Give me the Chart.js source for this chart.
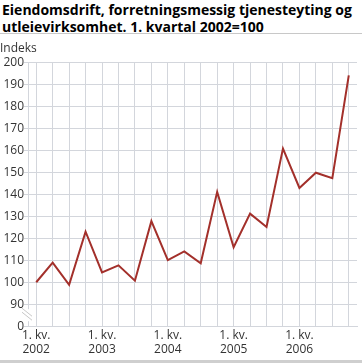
<!DOCTYPE html>
<html>
<head>
<meta charset="utf-8">
<script src="https://cdn.jsdelivr.net/npm/chart.js@4/dist/chart.umd.min.js"></script>
<style>
  html, body { margin: 0; padding: 0; background: #fff; }
  #wrap { width: 362px; height: 364px; position: relative; overflow: hidden; }
  #title {
    font-family: "Open Sans", sans-serif; font-weight: bold; font-size: 14px;
    line-height: 17px; color: #000; padding: 1px 0 0 2px; height: 34px;
    border-bottom: 1px solid #c8c8c8; box-sizing: border-box;
  }
  #box { position: absolute; left: 0; top: 34px; width: 362px; height: 325px; }
  #foot { position: absolute; left: 0; top: 360px; width: 362px; height: 3px; background: #cfcfcf; }
</style>
</head>
<body>
<div id="wrap">
  <div id="title">Eiendomsdrift, forretningsmessig tjenesteyting og utleievirksomhet. 1. kvartal 2002=100</div>
  <div id="box"><canvas id="chart"></canvas></div>
  <div id="foot"></div>
</div>
<script>
const quarters = [
  '2002K1', '2002K2', '2002K3', '2002K4',
  '2003K1', '2003K2', '2003K3', '2003K4',
  '2004K1', '2004K2', '2004K3', '2004K4',
  '2005K1', '2005K2', '2005K3', '2005K4',
  '2006K1', '2006K2', '2006K3', '2006K4'
];
const indexValues = [
  100, 108.9, 98.8, 123.0,
  104.5, 107.7, 100.7, 127.8,
  110.1, 114.0, 108.6, 141.1,
  115.9, 131.2, 125.1, 160.8,
  142.9, 149.8, 147.3, 194.1
];
const yTicks = [0, 90, 100, 110, 120, 130, 140, 150, 160, 170, 180, 190, 200];
// the axis is broken: 0 is drawn where 80 would be
const breakAt = 80;

const gridColor = '#d3d6dc';
const tickFont = { family: 'Open Sans', size: 12 };

const axisBreak = {
  id: 'axisBreak',
  afterDraw(chart) {
    const { ctx, chartArea } = chart;
    const y = chart.scales.y;
    const yTop = y.getPixelForValue(90);
    const yBot = y.getPixelForValue(breakAt);
    const x = chartArea.left;
    const mid = (yTop + yBot) / 2;
    ctx.save();
    ctx.fillStyle = '#fff';
    ctx.fillRect(x - 6, mid - 6, 10, 12);
    ctx.strokeStyle = '#c8c8c8';
    ctx.lineWidth = 1;
    [-2, 2].forEach(d => {
      ctx.beginPath();
      ctx.moveTo(x - 6, mid - 5 + d);
      ctx.lineTo(x + 4, mid + 3 + d);
      ctx.stroke();
    });
    ctx.restore();
  }
};

new Chart(document.getElementById('chart'), {
  type: 'line',
  data: {
    labels: quarters,
    datasets: [{
      data: indexValues,
      borderColor: '#a3302b',
      borderWidth: 2,
      pointRadius: 0,
      tension: 0,
      fill: false
    }]
  },
  options: {
    responsive: true,
    maintainAspectRatio: false,
    animation: false,
    layout: { padding: { left: 0, right: 5, top: 0, bottom: 0 } },
    plugins: {
      legend: { display: false },
      tooltip: { enabled: false },
      title: {
        display: true,
        text: 'Indeks',
        align: 'start',
        color: '#333',
        font: { family: 'Open Sans', size: 12, weight: 'normal' },
        padding: { top: 7, bottom: 7 }
      }
    },
    scales: {
      x: {
        offset: true,
        grid: { color: gridColor, drawTicks: true, tickLength: 0, offset: false },
        border: { color: gridColor },
        ticks: {
          autoSkip: false,
          maxRotation: 0,
          color: '#333',
          font: tickFont,
          padding: 2,
          callback: function (v, i) {
            return i % 4 === 0 ? ['1. kv.', quarters[i].slice(0, 4)] : '';
          }
        }
      },
      y: {
        min: breakAt,
        max: 200,
        afterFit: s => { s.width = 28; },
        afterBuildTicks: s => {
          s.ticks = yTicks.map(t => ({ value: t === 0 ? breakAt : t }));
        },
        grid: { color: gridColor, tickLength: 4 },
        border: { color: gridColor },
        ticks: {
          color: '#333',
          font: tickFont,
          padding: 0,
          callback: v => (v === breakAt ? '0' : v)
        }
      }
    }
  },
  plugins: [axisBreak]
});
</script>
</body>
</html>
